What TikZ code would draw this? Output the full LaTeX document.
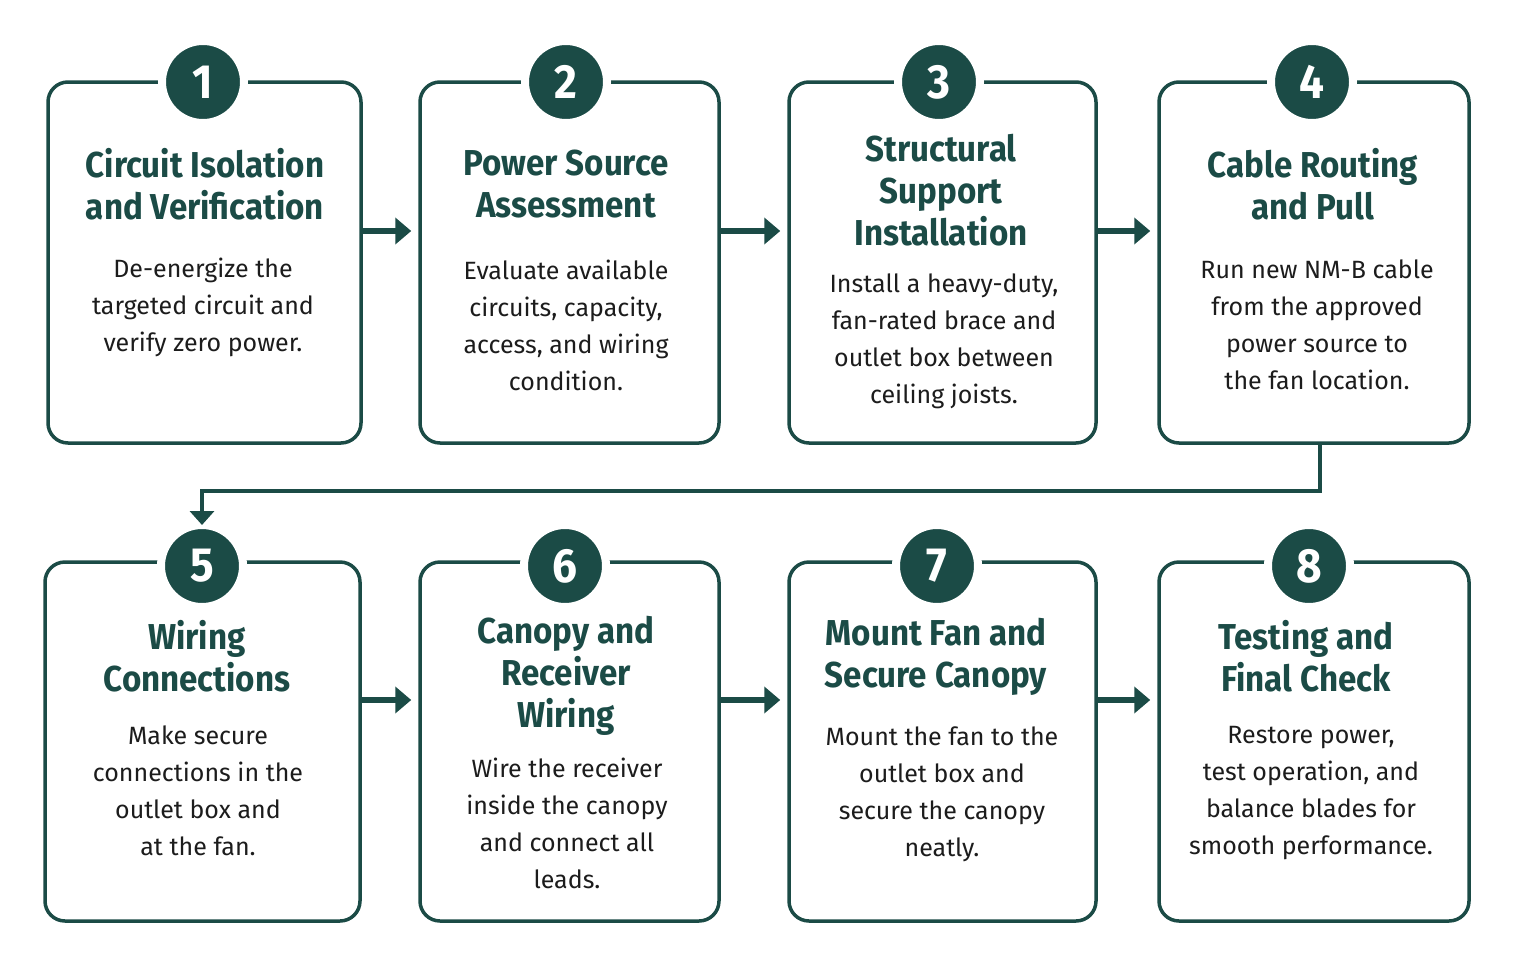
\documentclass[tikz,border=0pt]{standalone}
\usepackage{fontspec}
\setmainfont{Fira Sans}
\newfontfamily\titlefont[FakeStretch=0.92]{Fira Sans}
\newfontfamily\bodyfont{Fira Sans}
\usetikzlibrary{arrows.meta}
\definecolor{teal}{HTML}{1B4B46}
\definecolor{bodytext}{HTML}{1C1C1C}
\tikzset{
  stepbox/.style={draw=teal, line width=3.5pt, rounded corners=20pt, fill=white, inner sep=0pt},
  badge/.style={circle, fill=teal, draw=white, line width=8pt, minimum size=82pt, inner sep=0pt,
    text=white, font=\titlefont\bfseries\fontsize{48}{48}\selectfont},
  ttl/.style={align=center, text=teal, font=\titlefont\bfseries\fontsize{36}{42}\selectfont},
  txt/.style={align=center, text=bodytext, font=\bodyfont\fontsize{25}{37}\selectfont},
  flow/.style={teal, line width=6pt, -{Triangle[length=16pt,width=26pt]}, shorten >=7pt},
  link/.style={teal, line width=3.5pt, -{Triangle[length=14pt,width=24pt]}}
}
\begin{document}
\begin{tikzpicture}[x=1pt,y=-1pt]
\useasboundingbox[fill=white] (0,0) rectangle (1517,969);
% boxes
\node[stepbox, minimum width=313pt, minimum height=361pt] (b1) at (204.5,262.5) {};
\node[stepbox, minimum width=299pt, minimum height=361pt] (b2) at (569.5,262.5) {};
\node[stepbox, minimum width=307pt, minimum height=361pt] (b3) at (942.5,262.5) {};
\node[stepbox, minimum width=310pt, minimum height=361pt] (b4) at (1314,262.5) {};
\node[stepbox, minimum width=315pt, minimum height=359pt] (b5) at (202.5,741.5) {};
\node[stepbox, minimum width=299pt, minimum height=359pt] (b6) at (569.5,741.5) {};
\node[stepbox, minimum width=307pt, minimum height=359pt] (b7) at (942.5,741.5) {};
\node[stepbox, minimum width=310pt, minimum height=359pt] (b8) at (1314,741.5) {};
% badges
\node[badge] (n1) at (203,82) {1};
\node[badge] (n2) at (566,82) {2};
\node[badge] (n3) at (939,82) {3};
\node[badge] (n4) at (1312,82) {4};
\node[badge] (n5) at (202,566) {5};
\node[badge] (n6) at (565,566) {6};
\node[badge] (n7) at (937,566) {7};
\node[badge] (n8) at (1309,566) {8};
% titles
\node[ttl] (t1) at (205,184) {Circuit Isolation\\and Verification};
\node[ttl] (t2) at (566,184) {Power Source\\Assessment};
\node[ttl] (t3) at (941,190) {Structural\\Support\\Installation};
\node[ttl] (t4) at (1313,184) {Cable Routing\\and Pull};
\node[ttl] (t5) at (197,656) {Wiring\\Connections};
\node[ttl] (t6) at (566,676) {Canopy and\\Receiver\\Wiring};
\node[ttl] (t7) at (936,657) {Mount Fan and\\Secure Canopy};
\node[ttl] (t8) at (1306,656) {Testing and\\Final Check};
% bodies
\node[txt] (d1) at (203,307) {De-energize the\\targeted circuit and\\verify zero power.};
\node[txt] (d2) at (566,325) {Evaluate available\\circuits, capacity,\\access, and wiring\\condition.};
\node[txt] (d3) at (944,341) {Install a heavy-duty,\\fan-rated brace and\\outlet box between\\ceiling joists.};
\node[txt] (d4) at (1317,325) {Run new NM-B cable\\from the approved\\power source to\\the fan location.};
\node[txt] (d5) at (198,791) {Make secure\\connections in the\\outlet box and\\at the fan.};
\node[txt] (d6) at (567,823) {Wire the receiver\\inside the canopy\\and connect all\\leads.};
\node[txt] (d7) at (942,794) {Mount the fan to the\\outlet box and\\secure the canopy\\neatly.};
\node[txt] (d8) at (1311,793) {Restore power,\\test operation, and\\balance blades for\\smooth performance.};
% flow arrows
\draw[flow] (b1.east |- 0,231) -- (b2.west |- 0,231);
\draw[flow] (b2.east |- 0,231) -- (b3.west |- 0,231);
\draw[flow] (b3.east |- 0,231) -- (b4.west |- 0,231);
\draw[flow] (b5.east |- 0,700) -- (b6.west |- 0,700);
\draw[flow] (b6.east |- 0,700) -- (b7.west |- 0,700);
\draw[flow] (b7.east |- 0,700) -- (b8.west |- 0,700);
% row link
\coordinate (turn) at (1320,491);
\draw[link] ([xshift=6pt]b4.south) -- (turn) -- (turn -| n5) -- ([yshift=-4pt]n5.north);
\end{tikzpicture}
\end{document}
